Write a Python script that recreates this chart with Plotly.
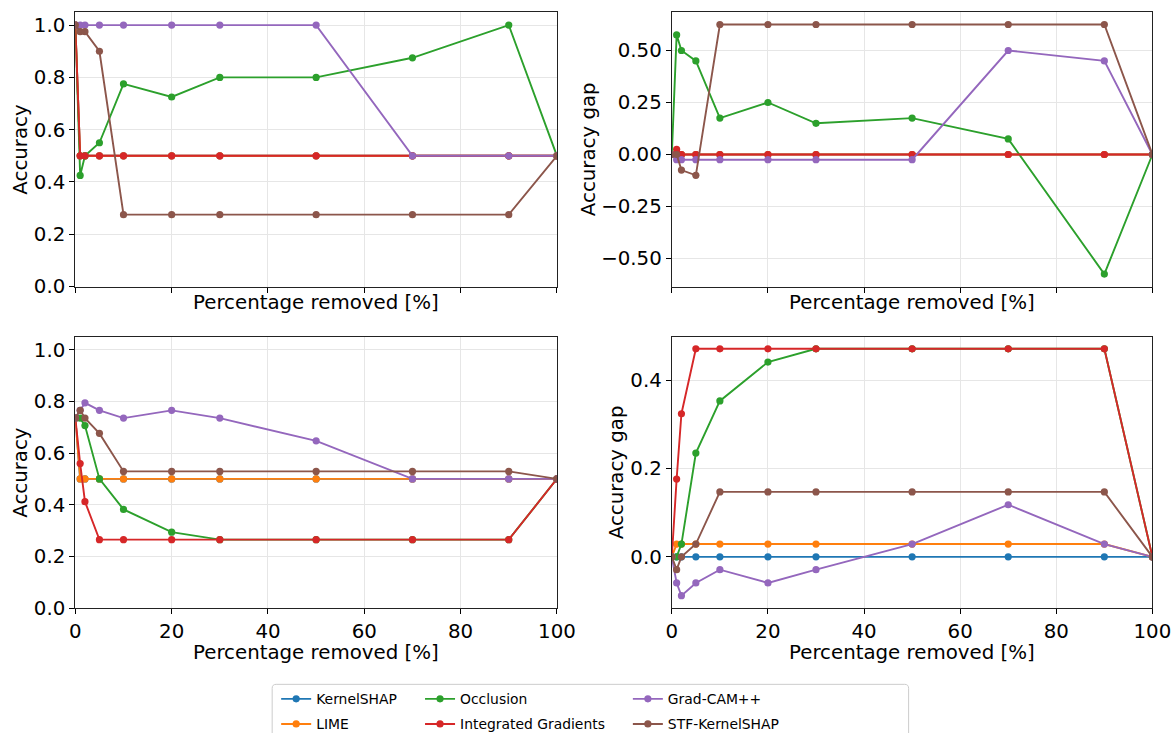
import plotly.graph_objects as go

# figure size (the photographed page appears shrunk by ~2 %, so the paper is enlarged to match)
W, H = 1199, 746
# mapping from target picture pixels to figure pixels
AX, SX, AY, SY = 5.6, 0.98, 0.0, 0.982

# ---------------- data ----------------
pct_removed = [0, 1, 2, 5, 10, 20, 30, 50, 70, 90, 100]
x_ticks = [0, 20, 40, 60, 80, 100]

methods = ["KernelSHAP", "LIME", "Occlusion", "Integrated Gradients", "Grad-CAM++", "STF-KernelSHAP"]
colors = ["#1f77b4", "#ff7f0e", "#2ca02c", "#d62728", "#9467bd", "#8c564b"]

# top-left: accuracy
acc_top_kernelshap = [1.0, 0.5, 0.5, 0.5, 0.5, 0.5, 0.5, 0.5, 0.5, 0.5, 0.5]
acc_top_lime = [1.0, 0.5, 0.5, 0.5, 0.5, 0.5, 0.5, 0.5, 0.5, 0.5, 0.5]
acc_top_occlusion = [1.0, 0.425, 0.5, 0.55, 0.775, 0.725, 0.8, 0.8, 0.875, 1.0, 0.5]
acc_top_ig = [1.0, 0.5, 0.5, 0.5, 0.5, 0.5, 0.5, 0.5, 0.5, 0.5, 0.5]
acc_top_gradcam = [1.0, 1.0, 1.0, 1.0, 1.0, 1.0, 1.0, 1.0, 0.5, 0.5, 0.5]
acc_top_stf = [1.0, 0.975, 0.975, 0.9, 0.275, 0.275, 0.275, 0.275, 0.275, 0.275, 0.5]

# top-right: accuracy gap
gap_top_kernelshap = [0, 0, 0, 0, 0, 0, 0, 0, 0, 0, 0]
gap_top_lime = [0, 0, 0, 0, 0, 0, 0, 0, 0, 0, 0]
gap_top_occlusion = [0, 0.575, 0.5, 0.45, 0.175, 0.25, 0.15, 0.175, 0.075, -0.575, 0]
gap_top_ig = [0, 0.025, 0, 0, 0, 0, 0, 0, 0, 0, 0]
gap_top_gradcam = [0, -0.025, -0.025, -0.025, -0.025, -0.025, -0.025, -0.025, 0.5, 0.45, 0]
gap_top_stf = [0, 0, -0.075, -0.1, 0.625, 0.625, 0.625, 0.625, 0.625, 0.625, 0]

# bottom-left: accuracy
acc_bot_kernelshap = [0.735, 0.5, 0.5, 0.5, 0.5, 0.5, 0.5, 0.5, 0.5, 0.5, 0.5]
acc_bot_lime = [0.735, 0.5, 0.5, 0.5, 0.5, 0.5, 0.5, 0.5, 0.5, 0.5, 0.5]
acc_bot_occlusion = [0.735, 0.735, 0.706, 0.5, 0.382, 0.294, 0.265, 0.265, 0.265, 0.265, 0.5]
acc_bot_ig = [0.735, 0.559, 0.412, 0.265, 0.265, 0.265, 0.265, 0.265, 0.265, 0.265, 0.5]
acc_bot_gradcam = [0.735, 0.765, 0.794, 0.765, 0.735, 0.765, 0.735, 0.647, 0.5, 0.5, 0.5]
acc_bot_stf = [0.735, 0.765, 0.735, 0.676, 0.529, 0.529, 0.529, 0.529, 0.529, 0.529, 0.5]

# bottom-right: accuracy gap
gap_bot_kernelshap = [0, 0, 0, 0, 0, 0, 0, 0, 0, 0, 0]
gap_bot_lime = [0, 0.029, 0.029, 0.029, 0.029, 0.029, 0.029, 0.029, 0.029, 0.029, 0]
gap_bot_occlusion = [0, 0, 0.029, 0.235, 0.353, 0.441, 0.471, 0.471, 0.471, 0.471, 0]
gap_bot_ig = [0, 0.176, 0.324, 0.471, 0.471, 0.471, 0.471, 0.471, 0.471, 0.471, 0]
gap_bot_gradcam = [0, -0.059, -0.088, -0.059, -0.029, -0.059, -0.029, 0.029, 0.118, 0.029, 0]
gap_bot_stf = [0, -0.029, 0, 0.029, 0.147, 0.147, 0.147, 0.147, 0.147, 0.147, 0]

panels = [
    ("x", "y", [acc_top_kernelshap, acc_top_lime, acc_top_occlusion, acc_top_ig, acc_top_gradcam, acc_top_stf]),
    ("x2", "y2", [gap_top_kernelshap, gap_top_lime, gap_top_occlusion, gap_top_ig, gap_top_gradcam, gap_top_stf]),
    ("x3", "y3", [acc_bot_kernelshap, acc_bot_lime, acc_bot_occlusion, acc_bot_ig, acc_bot_gradcam, acc_bot_stf]),
    ("x4", "y4", [gap_bot_kernelshap, gap_bot_lime, gap_bot_occlusion, gap_bot_ig, gap_bot_gradcam, gap_bot_stf]),
]

legend_of = ["legend", "legend", "legend2", "legend2", "legend3", "legend3"]

# ---------------- figure ----------------
FONT = "DejaVu Sans"
fig = go.Figure()

for pi, (xa, ya, series) in enumerate(panels):
    for mi, (name, col, vals) in enumerate(zip(methods, colors, series)):
        fig.add_trace(go.Scatter(
            x=pct_removed, y=vals, xaxis=xa, yaxis=ya,
            mode="lines+markers", name=name,
            line=dict(color=col, width=1.9),
            marker=dict(color=col, size=7.2),
            showlegend=(pi == 0), legend=legend_of[mi],
            legendgroup=name,
        ))


def fx(p):
    """target picture x-pixel -> paper fraction"""
    return ((p - AX) / SX) / W


def fy(p):
    """target picture y-pixel -> paper fraction"""
    return 1 - ((p - AY) / SY) / H


left_dom = [fx(75), fx(557)]
right_dom = [fx(672), fx(1153)]
top_dom = [fy(286), fy(12)]
bot_dom = [fy(607), fy(336)]

FS = 19.8
tickfont = dict(family=FONT, size=FS, color="black")
common_x = dict(range=[0, 100], tickvals=x_ticks, ticks="outside", ticklen=5, tickwidth=1.1,
                tickcolor="black", showline=True, linecolor="#222", linewidth=1.1, mirror=True,
                showgrid=True, gridcolor="#e6e6e6", gridwidth=1, zeroline=False, tickfont=tickfont)
common_y = dict(ticks="outside", ticklen=5, tickwidth=1.1, tickcolor="black", showline=True,
                linecolor="#222", linewidth=1.1, mirror=True, showgrid=True, gridcolor="#e6e6e6",
                gridwidth=1, zeroline=False, tickfont=tickfont)

fig.update_layout(
    xaxis=dict(domain=left_dom, anchor="y", showticklabels=False, **common_x),
    yaxis=dict(domain=top_dom, anchor="x", range=[0, 1.05], dtick=0.2, tickformat=".1f", **common_y),
    xaxis2=dict(domain=right_dom, anchor="y2", showticklabels=False, **common_x),
    yaxis2=dict(domain=top_dom, anchor="x2", range=[-0.635, 0.685],
                tickvals=[-0.5, -0.25, 0, 0.25, 0.5], tickformat=".2f", **common_y),
    xaxis3=dict(domain=left_dom, anchor="y3", **common_x),
    yaxis3=dict(domain=bot_dom, anchor="x3", range=[0, 1.05], dtick=0.2, tickformat=".1f", **common_y),
    xaxis4=dict(domain=right_dom, anchor="y4", **common_x),
    yaxis4=dict(domain=bot_dom, anchor="x4", range=[-0.1162, 0.4985], dtick=0.2, tick0=0,
                tickformat=".1f", **common_y),
)

# axis titles
title_font = dict(family=FONT, size=FS, color="black")
annos = []
for cx in [(75 + 557) / 2, (672 + 1153) / 2]:
    for cy in [302, 651.5]:
        annos.append(dict(text="Percentage removed [%]", x=fx(cx), y=fy(cy), xref="paper", yref="paper",
                          xanchor="center", yanchor="middle", showarrow=False, font=title_font,
                          borderpad=0))
for cx, cy, txt in [(20, 149, "Accuracy"), (20, 471.5, "Accuracy"),
                    (588, 149, "Accuracy gap"), (617, 471.5, "Accuracy gap")]:
    annos.append(dict(text=txt, x=fx(cx), y=fy(cy), xref="paper", yref="paper", textangle=-90,
                      xanchor="center", yanchor="middle", showarrow=False, font=title_font,
                      borderpad=0))
fig.update_layout(annotations=annos)

# legends (three columns inside one frame)
leg_font = dict(family=FONT, size=13.9, color="black")
leg_common = dict(orientation="v", bgcolor="rgba(0,0,0,0)", borderwidth=0, font=leg_font,
                  traceorder="grouped", tracegroupgap=4, xanchor="left", yanchor="top",
                  itemwidth=30, y=fy(682))
fig.update_layout(
    legend=dict(x=fx(276), **leg_common),
    legend2=dict(x=fx(420), **leg_common),
    legend3=dict(x=fx(628), **leg_common),
)

# legend frame: open at the bottom (cut by the figure edge), rounded top corners
bx0, bx1, by0, r = 272, 909, 683, 4
path = (f"M {fx(bx0)},0 L {fx(bx0)},{fy(by0 + r)} "
        f"Q {fx(bx0)},{fy(by0)} {fx(bx0 + r)},{fy(by0)} "
        f"L {fx(bx1 - r)},{fy(by0)} Q {fx(bx1)},{fy(by0)} {fx(bx1)},{fy(by0 + r)} "
        f"L {fx(bx1)},0")
fig.add_shape(type="path", path=path, xref="paper", yref="paper",
              line=dict(color="#cccccc", width=1), layer="below")

fig.update_layout(
    width=W, height=H,
    margin=dict(l=0, r=0, t=0, b=0),
    paper_bgcolor="white", plot_bgcolor="white",
    font=dict(family=FONT, color="black"),
)

fig.write_html("out.html")
